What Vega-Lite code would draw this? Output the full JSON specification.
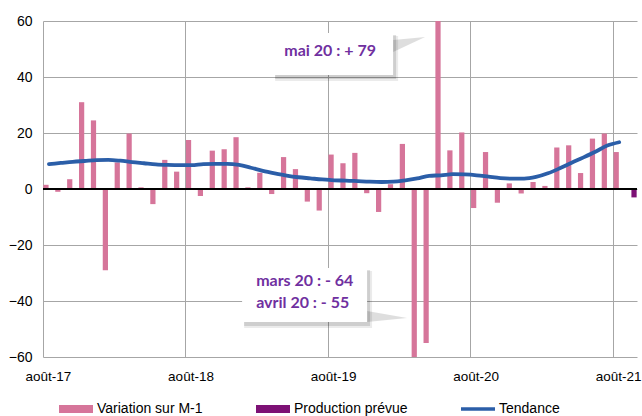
{
  "$schema": "https://vega.github.io/schema/vega-lite/v6.json",
  "autosize": {"type": "none"},
  "padding": {"left": 43, "top": 21, "right": 5, "bottom": 59},
  "width": 594,
  "height": 336,
  "background": "white",
  "config": {
    "view": {"stroke": null},
    "font": "Liberation Sans",
    "axis": {"labelFont": "Liberation Sans", "labelFontSize": 14, "labelColor": "#000"}
  },
  "datasets": {
    "barres": [
      {"m": "2017-08", "s": "Variation sur M-1", "v": 1.5},
      {"m": "2017-09", "s": "Variation sur M-1", "v": -1},
      {"m": "2017-10", "s": "Variation sur M-1", "v": 3.5},
      {"m": "2017-11", "s": "Variation sur M-1", "v": 31},
      {"m": "2017-12", "s": "Variation sur M-1", "v": 24.5},
      {"m": "2018-01", "s": "Variation sur M-1", "v": -29},
      {"m": "2018-02", "s": "Variation sur M-1", "v": 9.5},
      {"m": "2018-03", "s": "Variation sur M-1", "v": 19.8},
      {"m": "2018-04", "s": "Variation sur M-1", "v": 0.6},
      {"m": "2018-05", "s": "Variation sur M-1", "v": -5.4},
      {"m": "2018-06", "s": "Variation sur M-1", "v": 10.4},
      {"m": "2018-07", "s": "Variation sur M-1", "v": 6.2},
      {"m": "2018-08", "s": "Variation sur M-1", "v": 17.5},
      {"m": "2018-09", "s": "Variation sur M-1", "v": -2.5},
      {"m": "2018-10", "s": "Variation sur M-1", "v": 13.7},
      {"m": "2018-11", "s": "Variation sur M-1", "v": 14.2},
      {"m": "2018-12", "s": "Variation sur M-1", "v": 18.5},
      {"m": "2019-01", "s": "Variation sur M-1", "v": 0.6},
      {"m": "2019-02", "s": "Variation sur M-1", "v": 5.8},
      {"m": "2019-03", "s": "Variation sur M-1", "v": -1.8},
      {"m": "2019-04", "s": "Variation sur M-1", "v": 11.4},
      {"m": "2019-05", "s": "Variation sur M-1", "v": 7.1},
      {"m": "2019-06", "s": "Variation sur M-1", "v": -4.5},
      {"m": "2019-07", "s": "Variation sur M-1", "v": -7.7},
      {"m": "2019-08", "s": "Variation sur M-1", "v": 12.3},
      {"m": "2019-09", "s": "Variation sur M-1", "v": 9.2},
      {"m": "2019-10", "s": "Variation sur M-1", "v": 12.9},
      {"m": "2019-11", "s": "Variation sur M-1", "v": -1.5},
      {"m": "2019-12", "s": "Variation sur M-1", "v": -8.2},
      {"m": "2020-01", "s": "Variation sur M-1", "v": 1.7},
      {"m": "2020-02", "s": "Variation sur M-1", "v": 16.1},
      {"m": "2020-03", "s": "Variation sur M-1", "v": -64},
      {"m": "2020-04", "s": "Variation sur M-1", "v": -55},
      {"m": "2020-05", "s": "Variation sur M-1", "v": 79},
      {"m": "2020-06", "s": "Variation sur M-1", "v": 13.8},
      {"m": "2020-07", "s": "Variation sur M-1", "v": 20.2},
      {"m": "2020-08", "s": "Variation sur M-1", "v": -6.8},
      {"m": "2020-09", "s": "Variation sur M-1", "v": 13.2},
      {"m": "2020-10", "s": "Variation sur M-1", "v": -4.9},
      {"m": "2020-11", "s": "Variation sur M-1", "v": 2},
      {"m": "2020-12", "s": "Variation sur M-1", "v": -1.6},
      {"m": "2021-01", "s": "Variation sur M-1", "v": 2.5},
      {"m": "2021-02", "s": "Variation sur M-1", "v": 1.1},
      {"m": "2021-03", "s": "Variation sur M-1", "v": 14.8},
      {"m": "2021-04", "s": "Variation sur M-1", "v": 15.6},
      {"m": "2021-05", "s": "Variation sur M-1", "v": 5.7},
      {"m": "2021-06", "s": "Variation sur M-1", "v": 18},
      {"m": "2021-07", "s": "Variation sur M-1", "v": 19.8},
      {"m": "2021-08", "s": "Variation sur M-1", "v": 13.2},
      {"m": "2021-09", "s": "Production prévue", "v": -3}
    ],
    "tendance": [
      {"m": "2017-08", "s": "Tendance", "v": 8.9},
      {"m": "2017-09", "s": "Tendance", "v": 9.3},
      {"m": "2017-10", "s": "Tendance", "v": 9.7},
      {"m": "2017-11", "s": "Tendance", "v": 10.0},
      {"m": "2017-12", "s": "Tendance", "v": 10.3},
      {"m": "2018-01", "s": "Tendance", "v": 10.4},
      {"m": "2018-02", "s": "Tendance", "v": 10.1},
      {"m": "2018-03", "s": "Tendance", "v": 9.6},
      {"m": "2018-04", "s": "Tendance", "v": 9.2},
      {"m": "2018-05", "s": "Tendance", "v": 8.8},
      {"m": "2018-06", "s": "Tendance", "v": 8.6},
      {"m": "2018-07", "s": "Tendance", "v": 8.5},
      {"m": "2018-08", "s": "Tendance", "v": 8.5},
      {"m": "2018-09", "s": "Tendance", "v": 8.9},
      {"m": "2018-10", "s": "Tendance", "v": 9.0},
      {"m": "2018-11", "s": "Tendance", "v": 9.0},
      {"m": "2018-12", "s": "Tendance", "v": 8.6},
      {"m": "2019-01", "s": "Tendance", "v": 7.6},
      {"m": "2019-02", "s": "Tendance", "v": 6.5},
      {"m": "2019-03", "s": "Tendance", "v": 5.6},
      {"m": "2019-04", "s": "Tendance", "v": 4.8},
      {"m": "2019-05", "s": "Tendance", "v": 4.2},
      {"m": "2019-06", "s": "Tendance", "v": 3.8},
      {"m": "2019-07", "s": "Tendance", "v": 3.4},
      {"m": "2019-08", "s": "Tendance", "v": 3.1},
      {"m": "2019-09", "s": "Tendance", "v": 3.0},
      {"m": "2019-10", "s": "Tendance", "v": 2.8},
      {"m": "2019-11", "s": "Tendance", "v": 2.6},
      {"m": "2019-12", "s": "Tendance", "v": 2.5},
      {"m": "2020-01", "s": "Tendance", "v": 2.6},
      {"m": "2020-02", "s": "Tendance", "v": 3.1},
      {"m": "2020-03", "s": "Tendance", "v": 3.8},
      {"m": "2020-04", "s": "Tendance", "v": 4.7},
      {"m": "2020-05", "s": "Tendance", "v": 4.9},
      {"m": "2020-06", "s": "Tendance", "v": 5.3},
      {"m": "2020-07", "s": "Tendance", "v": 5.2},
      {"m": "2020-08", "s": "Tendance", "v": 4.9},
      {"m": "2020-09", "s": "Tendance", "v": 4.4},
      {"m": "2020-10", "s": "Tendance", "v": 3.9},
      {"m": "2020-11", "s": "Tendance", "v": 3.7},
      {"m": "2020-12", "s": "Tendance", "v": 3.7},
      {"m": "2021-01", "s": "Tendance", "v": 4.3},
      {"m": "2021-02", "s": "Tendance", "v": 5.6},
      {"m": "2021-03", "s": "Tendance", "v": 7.4},
      {"m": "2021-04", "s": "Tendance", "v": 9.4},
      {"m": "2021-05", "s": "Tendance", "v": 11.3},
      {"m": "2021-06", "s": "Tendance", "v": 13.3},
      {"m": "2021-07", "s": "Tendance", "v": 15.5},
      {"m": "2021-08", "s": "Tendance", "v": 16.7}
    ]
  },
  "resolve": {"scale": {"x": "independent"}},
  "layer": [
    {
      "layer": [
        {
          "data": {"name": "barres"},
          "mark": {"type": "bar", "clip": true},
          "encoding": {
            "x": {
              "field": "m", "type": "ordinal", "title": null,
              "scale": {"paddingInner": 0, "paddingOuter": 0},
              "axis": {
                "values": ["2017-08", "2018-08", "2019-08", "2020-08", "2021-08"],
                "labelExpr": "'août-' + substring(datum.value, 2, 4)",
                "bandPosition": 0,
                "labelOffset": -0.5,
                "labelAngle": 0,
                "labelFontSize": 13.5,
                "labelPadding": 12,
                "ticks": false,
                "tickSize": 0,
                "domain": false,
                "grid": true,
                "gridColor": "#a6a6a6",
                "gridWidth": 1,
                "zindex": 0
              }
            },
            "xOffset": {
              "field": "s", "type": "nominal",
              "scale": {"domain": ["Variation sur M-1", "Production prévue"], "paddingInner": 0.12, "paddingOuter": 0.06}
            },
            "y": {
              "field": "v", "type": "quantitative", "title": null,
              "scale": {"domain": [-60, 60], "nice": false, "zero": false},
              "axis": {
                "values": [-60, -40, -20, 0, 20, 40, 60],
                "ticks": false, "tickSize": 0, "domain": false,
                "labelPadding": 11,
                "grid": true, "gridColor": "#a6a6a6", "gridWidth": 1
              }
            },
            "color": {
              "field": "s", "type": "nominal",
              "scale": {
                "domain": ["Variation sur M-1", "Production prévue", "Tendance"],
                "range": ["#d6759a", "#7d1175", "#2b5ea8"]
              },
              "legend": {
                "title": null,
                "orient": "none",
                "legendX": 16,
                "legendY": 371,
                "direction": "horizontal",
                "columnPadding": 53,
                "labelFont": "Liberation Sans",
                "labelFontSize": 14,
                "labelColor": "#000",
                "labelOffset": 4,
                "symbolSize": 1156,
                "encode": {
                  "symbols": {
                    "update": {
                      "shape": {"signal": "datum.value === 'Tendance' ? 'M-1,-0.11H1V0.11H-1Z' : 'M-1,-0.23H1V0.23H-1Z'"},
                      "fill": {"signal": "scale('color', datum.value)"},
                      "stroke": {"value": "transparent"},
                      "strokeWidth": {"value": 0},
                      "opacity": {"value": 1},
                      "fillOpacity": {"value": 1}
                    }
                  }
                }
              }
            }
          }
        },
        {
          "data": {"name": "barres"},
          "mark": {"type": "rule", "color": "#000", "strokeWidth": 1.3},
          "encoding": {"y": {"datum": 0}}
        },
        {
          "data": {"name": "tendance"},
          "mark": {"type": "line", "interpolate": "monotone", "strokeWidth": 3.8, "strokeCap": "round"},
          "encoding": {
            "x": {"field": "m", "type": "ordinal"},
            "y": {"field": "v", "type": "quantitative"},
            "color": {"field": "s", "type": "nominal"}
          }
        }
      ]
    },
    {
      "data": {"values": [{}]},
      "layer": [
        {
          "mark": {"type": "point", "filled": true, "fill": "#000", "opacity": 0.13, "strokeWidth": 0, "size": 1024, "shape": "M-1,-0.28L1,-0.47L-1,0.47Z"},
          "encoding": {
            "x": {"datum": 30.82, "type": "quantitative", "scale": {"domain": [0, 50], "nice": false, "zero": false}, "axis": null},
            "y": {"datum": 51.6, "type": "quantitative"}
          }
        },
        {
          "mark": {"type": "point", "filled": true, "fill": "#000", "opacity": 0.13, "strokeWidth": 0, "size": 1600, "shape": "M-1,-0.275L1,0.075L-1,0.275Z"},
          "encoding": {
            "x": {"datum": 28.97, "type": "quantitative"},
            "y": {"datum": -45.5, "type": "quantitative"}
          }
        },
        {
          "mark": {"type": "rect", "fill": "#000", "opacity": 0.08, "xOffset": 2, "yOffset": 3, "x2Offset": 5, "y2Offset": 6},
          "encoding": {
            "x": {"datum": 19.37, "type": "quantitative"},
            "x2": {"datum": 29.47},
            "y": {"datum": 55.7, "type": "quantitative"},
            "y2": {"datum": 40.7}
          }
        },
        {
          "mark": {"type": "rect", "fill": "#000", "opacity": 0.12, "xOffset": 2, "yOffset": 2, "x2Offset": 3, "y2Offset": 4},
          "encoding": {
            "x": {"datum": 19.37, "type": "quantitative"},
            "x2": {"datum": 29.47},
            "y": {"datum": 55.7, "type": "quantitative"},
            "y2": {"datum": 40.7}
          }
        },
        {
          "mark": {"type": "rect", "fill": "#fff"},
          "encoding": {
            "x": {"datum": 19.37, "type": "quantitative"},
            "x2": {"datum": 29.47},
            "y": {"datum": 55.7, "type": "quantitative"},
            "y2": {"datum": 40.7}
          }
        },
        {
          "mark": {"type": "text", "font": "Lato", "fontWeight": "bold", "fontSize": 16, "color": "#7030a0", "align": "center", "baseline": "middle"},
          "encoding": {
            "x": {"datum": 24.17, "type": "quantitative"},
            "y": {"datum": 49.3, "type": "quantitative"},
            "text": {"value": "mai 20 : + 79"}
          }
        },
        {
          "mark": {"type": "rect", "fill": "#000", "opacity": 0.08, "xOffset": 2, "yOffset": 3, "x2Offset": 5, "y2Offset": 6},
          "encoding": {
            "x": {"datum": 16.76, "type": "quantitative"},
            "x2": {"datum": 27.28},
            "y": {"datum": -28.2, "type": "quantitative"},
            "y2": {"datum": -47.5}
          }
        },
        {
          "mark": {"type": "rect", "fill": "#000", "opacity": 0.12, "xOffset": 2, "yOffset": 2, "x2Offset": 3, "y2Offset": 4},
          "encoding": {
            "x": {"datum": 16.76, "type": "quantitative"},
            "x2": {"datum": 27.28},
            "y": {"datum": -28.2, "type": "quantitative"},
            "y2": {"datum": -47.5}
          }
        },
        {
          "mark": {"type": "rect", "fill": "#fff"},
          "encoding": {
            "x": {"datum": 16.76, "type": "quantitative"},
            "x2": {"datum": 27.28},
            "y": {"datum": -28.2, "type": "quantitative"},
            "y2": {"datum": -47.5}
          }
        },
        {
          "mark": {"type": "text", "font": "Lato", "fontWeight": "bold", "fontSize": 16, "color": "#7030a0", "align": "left", "baseline": "middle"},
          "encoding": {
            "x": {"datum": 17.94, "type": "quantitative"},
            "y": {"datum": -32.9, "type": "quantitative"},
            "text": {"value": "mars 20 : - 64"}
          }
        },
        {
          "mark": {"type": "text", "font": "Lato", "fontWeight": "bold", "fontSize": 16, "color": "#7030a0", "align": "left", "baseline": "middle"},
          "encoding": {
            "x": {"datum": 17.94, "type": "quantitative"},
            "y": {"datum": -40.7, "type": "quantitative"},
            "text": {"value": "avril 20 : - 55"}
          }
        }
      ]
    }
  ]
}
